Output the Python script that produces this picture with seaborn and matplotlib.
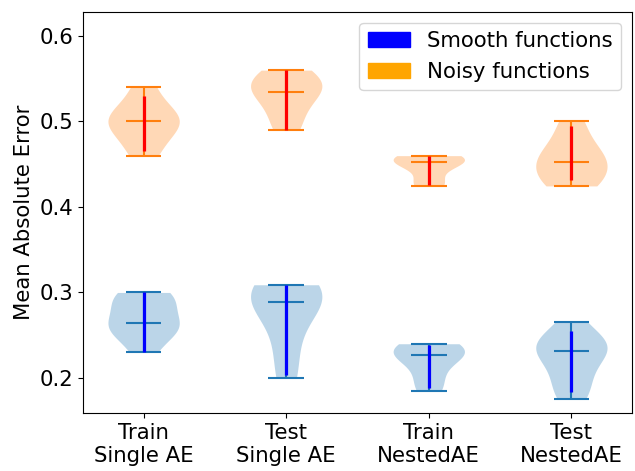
import numpy as np
import pandas as pd
import matplotlib
matplotlib.use("Agg")
import matplotlib.pyplot as plt
import matplotlib.patches as mpatches
import seaborn as sns

# Evaluation settings along the x axis
settings = ["Train\nSingle AE", "Test\nSingle AE", "Train\nNestedAE", "Test\nNestedAE"]

# Per-run mean absolute errors for smooth functions
smooth_runs = [
    [0.23, 0.25, 0.257, 0.262, 0.2647, 0.28, 0.29, 0.298, 0.30],
    [0.20, 0.24, 0.28, 0.2893, 0.30, 0.305, 0.309],
    [0.185, 0.20, 0.222, 0.2273, 0.232, 0.236, 0.24],
    [0.175, 0.185, 0.198, 0.212, 0.222, 0.2319, 0.236, 0.238, 0.242, 0.25, 0.265],
]
# Per-run mean absolute errors for noisy functions
noisy_runs = [
    [0.46, 0.48, 0.495, 0.50, 0.505, 0.515, 0.54],
    [0.49, 0.51, 0.53, 0.5345, 0.545, 0.55, 0.56],
    [0.4246, 0.43, 0.45, 0.4526, 0.456, 0.458, 0.46],
    [0.4246, 0.43, 0.445, 0.4523, 0.46, 0.475, 0.50],
]
# Central spread range for each setting
smooth_band_low = [0.230, 0.204, 0.188, 0.184]
smooth_band_high = [0.300, 0.309, 0.238, 0.255]
noisy_band_low = [0.465, 0.490, 0.426, 0.431]
noisy_band_high = [0.530, 0.560, 0.459, 0.495]

rows = []
for s, runs in zip(settings, smooth_runs):
    rows += [{"setting": s, "kind": "Smooth", "mae": v} for v in runs]
for s, runs in zip(settings, noisy_runs):
    rows += [{"setting": s, "kind": "Noisy", "mae": v} for v in runs]
df = pd.DataFrame(rows)

FS = 15.3
fig = plt.figure(figsize=(6.35, 4.71), dpi=100)
ax = fig.add_axes([83 / 635, 1 - 413 / 471, (632 - 83) / 635, (413 - 12) / 471])

sns.violinplot(data=df, x="setting", y="mae", hue="kind", order=settings,
               palette={"Smooth": "C0", "Noisy": "C1"}, dodge=False,
               cut=0, inner=None, width=0.5, density_norm="width",
               saturation=1, linewidth=0, legend=False, ax=ax)
for coll in ax.collections:
    coll.set_alpha(0.3)

half = 0.125
for runs, lo, hi, col, band_col in [
    (smooth_runs, smooth_band_low, smooth_band_high, "C0", "blue"),
    (noisy_runs, noisy_band_low, noisy_band_high, "C1", "red"),
]:
    pos = np.arange(len(runs))
    mins = [min(r) for r in runs]
    maxs = [max(r) for r in runs]
    meds = [float(np.median(r)) for r in runs]
    ax.hlines(mins, pos - half, pos + half, colors=col, lw=1.5)
    ax.hlines(maxs, pos - half, pos + half, colors=col, lw=1.5)
    ax.hlines(meds, pos - half, pos + half, colors=col, lw=1.5)
    ax.vlines(pos, mins, maxs, colors=col, lw=1.5)
    ax.vlines(pos, lo, hi, colors=band_col, lw=2.3)

ax.set_xlim(-0.425, 3.425)
ax.set_ylim(0.159, 0.628)
ax.set_yticks([0.2, 0.3, 0.4, 0.5, 0.6])
ax.set_xlabel("")
ax.set_ylabel("Mean Absolute Error", fontsize=FS)
ax.tick_params(labelsize=FS)

handles = [mpatches.Patch(color="blue", label="Smooth functions"),
           mpatches.Patch(color="orange", label="Noisy functions")]
ax.legend(handles=handles, loc="upper right", fontsize=FS)

fig.savefig("out.png", dpi=100)
